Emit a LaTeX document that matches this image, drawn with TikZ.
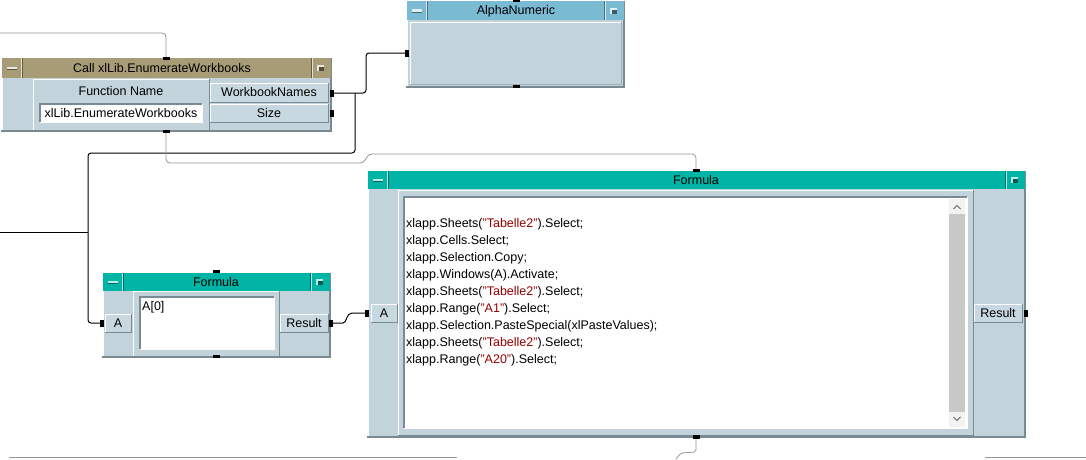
\documentclass[tikz,border=0pt]{standalone}
\usepackage{fontspec}
\setmainfont{Liberation Sans}
\definecolor{bodyc}{RGB}{195,211,219}
\definecolor{btnc}{RGB}{200,216,224}
\definecolor{edgec}{RGB}{122,138,146}
\definecolor{tealc}{RGB}{0,181,165}
\definecolor{bluec}{RGB}{122,186,210}
\definecolor{tanc}{RGB}{168,156,118}
\definecolor{strc}{RGB}{150,0,0}
\definecolor{wirec}{RGB}{150,150,150}
\definecolor{scrollc}{RGB}{200,200,200}
\newcommand\rbox[5]{%
  \fill[#5] (#1,#2) rectangle (#3,#4);
  \draw[white,line width=1pt] (#1,#4) -- (#1,#2) -- (#3,#2);
  \draw[edgec,line width=1pt] (#3,#2) -- (#3,#4) -- (#1,#4);}
\newcommand\skbox[5]{%
  \fill[#5] (#1,#2) rectangle (#3,#4);
  \draw[edgec,line width=1.5pt] (#1,#4) -- (#1,#2) -- (#3,#2);
  \draw[white,line width=1pt] (#3,#2) -- (#3,#4) -- (#1,#4);}
% title bar: x1 y1 x2 y2 colour
\newcommand\tbar[5]{%
  \fill[#5] (#1,#2) rectangle (#3,#4);
  \draw[white!70!#5,line width=0.8pt] (#1+19,#2) -- (#1+19,#4) (#3-19,#2) -- (#3-19,#4);
  \draw[black!40!#5,line width=0.8pt] (#1+20,#2) -- (#1+20,#4) (#3-20,#2) -- (#3-20,#4);
  \fill[white!75!#5] (#1+5,{(#2+#4)/2-1.5}) rectangle (#1+15,{(#2+#4)/2+1});
  \fill[black!45!#5] (#1+5,{(#2+#4)/2+1}) rectangle (#1+15,{(#2+#4)/2+2});
  \fill[white!75!#5] (#3-14,{(#2+#4)/2-3}) rectangle (#3-7,{(#2+#4)/2+3});
  \fill[black!50!#5] (#3-12,{(#2+#4)/2-1}) rectangle (#3-7,{(#2+#4)/2+3});}
\newcommand\frm[4]{%
  \fill[bodyc] (#1,#2) rectangle (#3,#4);
  \draw[white,line width=1pt] (#1,#4) -- (#1,#2) -- (#3,#2);
  \draw[edgec,line width=2pt] (#3,#2) -- (#3,#4) -- (#1-1,#4);}
\tikzset{
  lbl/.style={font=\fontsize{12.5}{14}\selectfont, inner sep=0pt},
  code/.style={font=\fontsize{12.5}{14}\selectfont, inner sep=0pt, anchor=west},
  wire/.style={black, line width=1pt, rounded corners=3pt},
  gwire/.style={wirec, line width=0.8pt, rounded corners=4pt},
}
\newcommand\str[1]{\textcolor{strc}{"#1"}}
\begin{document}
\begin{tikzpicture}[x=1pt,y=-1pt]
\useasboundingbox (0,0) rectangle (1086,459);
\clip (0,0) rectangle (1086,459);
\fill[white] (0,0) rectangle (1086,459);

% ---------- Call box ----------
\frm{2}{58}{331}{131}
\tbar{2}{58}{331}{78}{tanc}
\node[lbl] (calltitle) at (162,68.5) {Call xlLib.EnumerateWorkbooks};
\rbox{33}{79}{209}{130}{bodyc}
\node[lbl] (fname) at (121,91.5) {Function Name};
\skbox{40}{104}{202}{122}{white}
\node[lbl] (fval) at (121,113.5) {xlLib.EnumerateWorkbooks};
\rbox{210}{83}{328}{102}{btnc}
\node[lbl] (wbn) at (269,92.5) {WorkbookNames};
\rbox{210}{104}{328}{122}{btnc}
\node[lbl] (size) at (269,113) {Size};
\coordinate (callTop) at (166,58);
\coordinate (callBot) at (166,131);
\coordinate (callOut) at (332,93);
\coordinate (callOut2) at (332,113);

% ---------- AlphaNumeric ----------
\frm{407}{1}{624}{87}
\tbar{407}{1}{624}{20}{bluec}
\node[lbl] (antitle) at (516,11) {AlphaNumeric};
\draw[white,line width=0.8pt] (410,84) -- (410,22) -- (621,22);
\draw[edgec!70,line width=0.8pt] (621,22) -- (621,84) -- (410,84);
\coordinate (anIn) at (407,53);
\coordinate (anBot) at (516,87);
\coordinate (anTop) at (516,0);

% ---------- small Formula ----------
\frm{103}{273}{330}{357}
\tbar{103}{273}{330}{291}{tealc}
\node[lbl] (sftitle) at (216,282) {Formula};
\rbox{133}{291}{279}{356}{bodyc}
\skbox{140}{297}{274}{349}{white}
\node[lbl,anchor=north west] (sfexpr) at (142,301) {A[0]};
\rbox{105}{314}{131}{332}{btnc}
\node[lbl] (sfA) at (118,323) {A};
\rbox{280}{314}{328}{332}{btnc}
\node[lbl] (sfR) at (304,323) {Result};
\coordinate (sfIn) at (103,323);
\coordinate (sfOut) at (331,323);
\coordinate (sfTop) at (216,272);
\coordinate (sfBot) at (216,357);

% ---------- big Formula ----------
\frm{368}{171}{1025}{437}
\tbar{368}{171}{1025}{189}{tealc}
\node[lbl] (bftitle) at (696,180.5) {Formula};
\rbox{398}{190}{973}{435}{bodyc}
\skbox{404}{197}{967}{428}{white}
\fill[scrollc] (949,214) rectangle (965,412);
\fill[black!5] (949,199) rectangle (965,214);
\fill[black!5] (949,412) rectangle (965,427);
\draw[black!60,line width=1pt] (953.5,209) -- (957,205.5) -- (960.5,209);
\draw[black!60,line width=1pt] (953.5,417) -- (957,420.5) -- (960.5,417);
\rbox{371}{304}{397}{322}{btnc}
\node[lbl] (bfA) at (384,313) {A};
\rbox{974}{304}{1022}{322}{btnc}
\node[lbl] (bfR) at (998,313) {Result};
\node[code] (l1) at (406,224) {xlapp.Sheets(\str{Tabelle2}).Select;};
\node[code] (l2) at (406,241) {xlapp.Cells.Select;};
\node[code] (l3) at (406,258) {xlapp.Selection.Copy;};
\node[code] (l4) at (406,275) {xlapp.Windows(A).Activate;};
\node[code] (l5) at (406,292) {xlapp.Sheets(\str{Tabelle2}).Select;};
\node[code] (l6) at (406,309) {xlapp.Range(\str{A1}).Select;};
\node[code] (l7) at (406,326) {xlapp.Selection.PasteSpecial(xlPasteValues);};
\node[code] (l8) at (406,343) {xlapp.Sheets(\str{Tabelle2}).Select;};
\node[code] (l9) at (406,360) {xlapp.Range(\str{A20}).Select;};
\coordinate (bfIn) at (368,313);
\coordinate (bfOut) at (1026,313);
\coordinate (bfTop) at (696,171);
\coordinate (bfBot) at (696,437);

% ---------- wires ----------
\coordinate (topfree) at (0,33);
\coordinate (leftfree) at (0,232);
\coordinate (j1) at (355,93);
\coordinate (j2) at (88,232);
\coordinate (botfree) at (676,459);
\draw[gwire] (topfree) -| (callTop);
\draw[wire] (callOut) -- (366,93) |- (anIn);
\draw[wire] (j1) -- (355,153) -- (88,153) -- (88,323) -- (sfIn);
\draw[black,line width=1pt] (leftfree) -- (j2);
\draw[gwire] (callBot) -- (166,163) -- (364,163) -- (368,154) -- (696,154) -- (bfTop);
\draw[black,line width=1pt] (sfOut) -- (343,323) .. controls (347,323) and (346,313) .. (352,313) -- (bfIn);
\draw[gwire,rounded corners=2pt] (bfBot) -- (696,452) -- (681,453) -- (botfree);
\draw[wirec,line width=1pt] (9,457.5) -- (457,457.5);
\draw[wirec,line width=1pt] (985,457.5) -- (1086,457.5);

% ---------- pins ----------
\fill (163,57) rectangle (170,60);
\fill (163,130) rectangle (170,133);
\fill (330,89.5) rectangle (334,96.5);
\fill (330,109.5) rectangle (334,116.5);
\fill (405,49.5) rectangle (409,56.5);
\fill (512.5,85) rectangle (519.5,88);
\fill (512.5,0) rectangle (519.5,2);
\fill (99.5,319.5) rectangle (103.5,326.5);
\fill (329,319.5) rectangle (333,326.5);
\fill (212.5,270) rectangle (219.5,273);
\fill (212.5,355) rectangle (219.5,358);
\fill (365,309.5) rectangle (369,316.5);
\fill (1024,309.5) rectangle (1028,316.5);
\fill (692.5,169) rectangle (699.5,172);
\fill (692.5,435) rectangle (699.5,439);
\end{tikzpicture}
\end{document}
